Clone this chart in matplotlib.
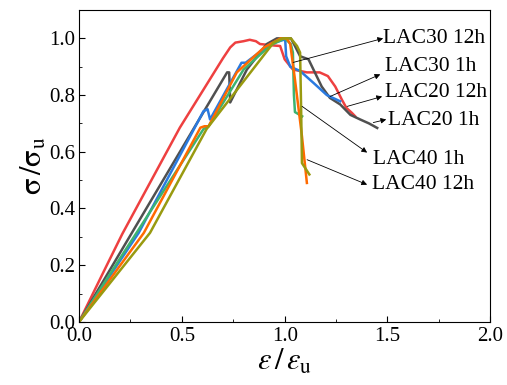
import matplotlib
matplotlib.use('Agg')
import matplotlib.pyplot as plt
from matplotlib.ticker import MultipleLocator

plt.rcParams['font.family'] = 'serif'
plt.rcParams['font.serif'] = ['Liberation Serif', 'DejaVu Serif']
plt.rcParams['mathtext.fontset'] = 'stix'

# strain / peak strain and stress / peak stress
red_x = [0, 0.135, 0.21, 0.49, 0.70, 0.735, 0.76, 0.80, 0.83, 0.86, 0.88, 0.945, 0.978, 1.0, 1.04,
         1.108, 1.17, 1.21, 1.246, 1.278, 1.30, 1.327, 1.343]
red_y = [0, 0.20, 0.31, 0.685, 0.93, 0.968, 0.985, 0.99, 0.995, 0.99, 0.98, 0.975, 0.973, 0.926, 0.89,
         0.88, 0.88, 0.867, 0.83, 0.784, 0.755, 0.737, 0.725]

gray_x = [0, 0.556, 0.72, 0.73, 0.735, 0.816, 0.913, 0.962, 1.03, 1.045, 1.075, 1.116, 1.14, 1.18,
          1.22, 1.27, 1.32, 1.367, 1.41, 1.45]
gray_y = [0, 0.68, 0.88, 0.88, 0.774, 0.89, 0.98, 1.0, 1.0, 0.98, 0.937, 0.926, 0.89, 0.83,
          0.79, 0.767, 0.73, 0.714, 0.70, 0.684]

blue_x = [0, 0.29, 0.605, 0.625, 0.637, 0.79, 0.81, 0.93, 1.0, 1.003, 1.007, 1.027, 1.075, 1.14,
          1.205, 1.27]
blue_y = [0, 0.314, 0.743, 0.75, 0.714, 0.914, 0.914, 0.98, 0.996, 0.99, 0.937, 0.90, 0.885, 0.843,
          0.80, 0.778]

green_x = [0, 0.605, 0.63, 0.80, 0.93, 1.0, 1.03, 1.04, 1.045, 1.05, 1.085]
green_y = [0, 0.68, 0.69, 0.89, 0.975, 1.0, 0.98, 0.95, 0.80, 0.74, 0.725]

orange_x = [0, 0.315, 0.59, 0.61, 0.63, 0.767, 0.90, 0.98, 1.01, 1.027, 1.05, 1.084, 1.108]
orange_y = [0, 0.314, 0.685, 0.69, 0.69, 0.88, 0.968, 1.0, 1.0, 0.98, 0.855, 0.655, 0.49]

olive_x = [0, 0.345, 0.62, 0.946, 0.99, 1.03, 1.06, 1.075, 1.08, 1.084, 1.12]
olive_y = [0, 0.314, 0.68, 0.985, 1.0, 1.0, 0.973, 0.95, 0.75, 0.56, 0.52]

labels = ['LAC30 12h', 'LAC30 1h', 'LAC20 12h', 'LAC20 1h', 'LAC40 1h', 'LAC40 12h']
label_pos = [(1.479, 1.0), (1.489, 0.901), (1.489, 0.809), (1.504, 0.710), (1.431, 0.572), (1.426, 0.484)]
arrow_head = [(1.479, 1.0), (1.465, 0.873), (1.474, 0.795), (1.494, 0.714), (1.401, 0.597), (1.401, 0.484)]
arrow_tail = [(1.041, 0.915), (1.221, 0.795), (1.304, 0.760), (1.431, 0.703), (1.085, 0.760), (1.109, 0.572)]

fig = plt.figure(figsize=(5.07, 3.85), dpi=100)
ax = fig.add_axes([0.156, 0.164, 0.811, 0.810])

ax.plot(red_x, red_y, color='#ee4040', lw=1.8)
ax.plot(gray_x, gray_y, color='#505050', lw=1.8)
ax.plot(blue_x, blue_y, color='#2a7ae0', lw=1.8)
ax.plot(green_x, green_y, color='#3cb371', lw=1.8)
ax.plot(orange_x, orange_y, color='#ff6a00', lw=1.8)
ax.plot(olive_x, olive_y, color='#999a10', lw=1.8)

for lab, tp, hp, sp in zip(labels, label_pos, arrow_head, arrow_tail):
    ax.annotate('', xy=hp, xytext=sp,
                arrowprops=dict(arrowstyle='-|>', color='k', lw=0.6, mutation_scale=8,
                                shrinkA=0, shrinkB=0))
    ax.text(tp[0], tp[1], lab, fontsize=15.5, va='center', ha='left')

ax.set_xlim(0, 2.0)
ax.set_ylim(0, 1.1)
ax.xaxis.set_major_locator(MultipleLocator(0.5))
ax.xaxis.set_minor_locator(MultipleLocator(0.25))
ax.yaxis.set_major_locator(MultipleLocator(0.2))
ax.yaxis.set_minor_locator(MultipleLocator(0.1))
ax.tick_params(which='both', direction='in', labelsize=15)
ax.tick_params(which='major', length=4)
ax.tick_params(which='minor', length=2.5)
ax.tick_params(axis='x', which='major', pad=4)
ax.tick_params(axis='y', which='major', pad=3)
ax.set_xticks([0, 0.5, 1.0, 1.5, 2.0])
ax.set_xticklabels(['0.0', '0.5', '1.0', '1.5', '2.0'])

ax.set_xlabel(r'$\varepsilon\,/\,\varepsilon_{\rm u}$', fontsize=22, labelpad=1)
ax.set_ylabel(r'$\mathrm{\sigma}\,/\mathrm{\sigma}_{\rm u}$', fontsize=22, labelpad=0)

fig.savefig('out.png', dpi=100)
